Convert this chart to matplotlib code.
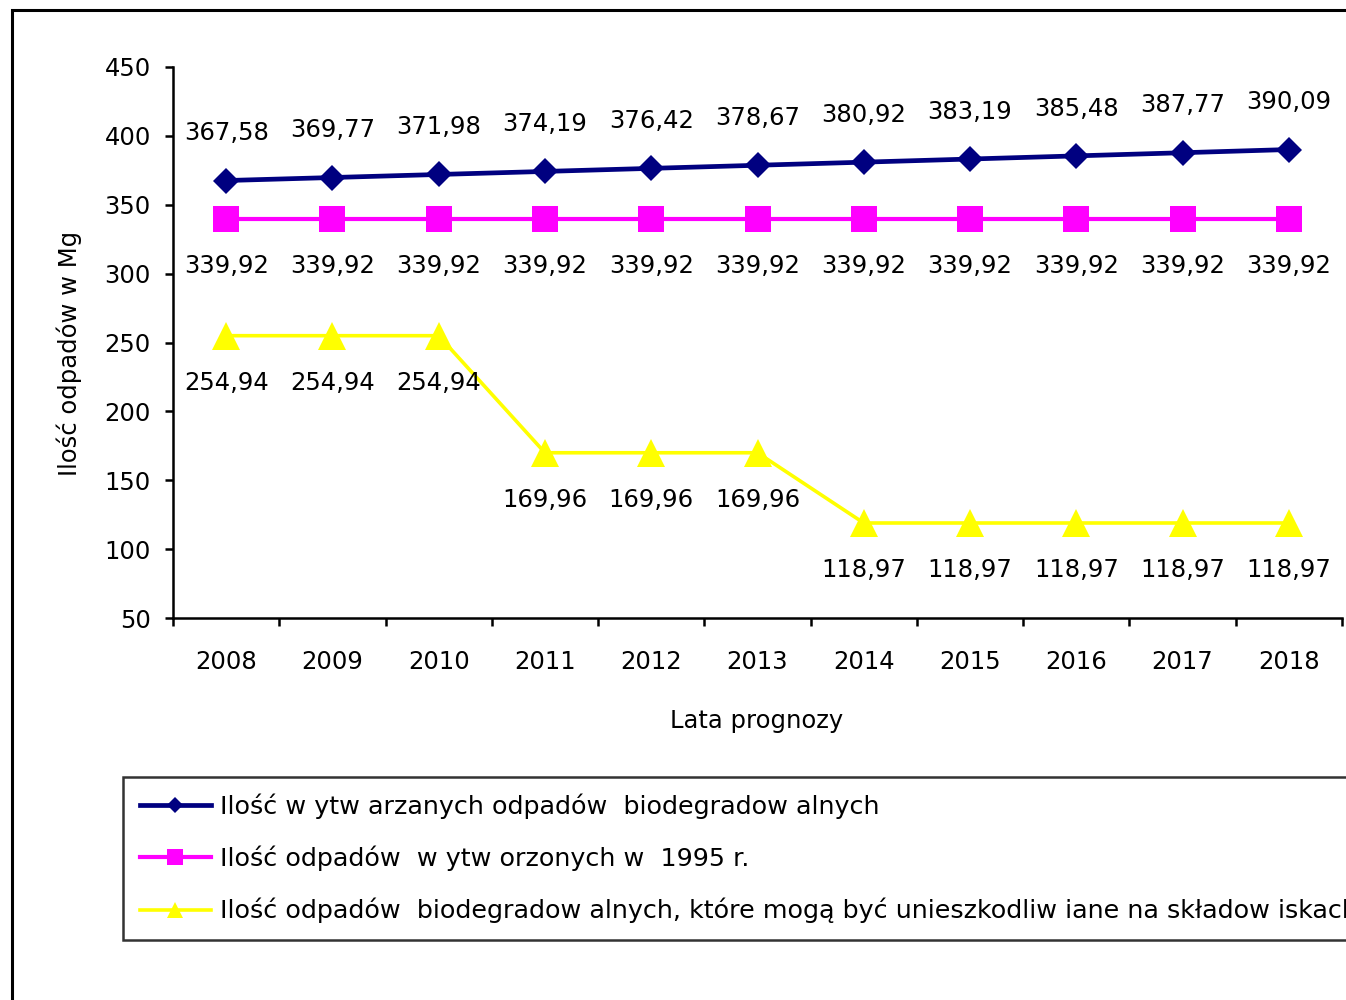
import matplotlib

matplotlib.use("Agg")
matplotlib.rc("font", **{"family": "sans-serif", "sans-serif": ["DejaVu Sans"]})

import numpy as np
import matplotlib.pyplot as plt
from matplotlib.patches import Rectangle

years = ["2008", "2009", "2010", "2011", "2012", "2013",
         "2014", "2015", "2016", "2017", "2018"]

generated = [367.58, 369.77, 371.98, 374.19, 376.42, 378.67,
             380.92, 383.19, 385.48, 387.77, 390.09]
base_1995 = [339.92] * 11
landfill = [254.94, 254.94, 254.94, 169.96, 169.96, 169.96,
            118.97, 118.97, 118.97, 118.97, 118.97]

labels = [
    "Ilość w ytw arzanych odpadów  biodegradow alnych",
    "Ilość odpadów  w ytw orzonych w  1995 r.",
    "Ilość odpadów  biodegradow alnych, które mogą być unieszkodliw iane na składow iskach",
]

yticks = [50, 100, 150, 200, 250, 300, 350, 400, 450]


def fmt(v):
    return "{:.2f}".format(v).replace(".", ",")


if __name__ == "__main__":
    W, H = 1346, 1000
    fig = plt.figure(figsize=(W / 100, H / 100), dpi=100)
    ax = fig.add_axes([173 / W, 1 - 618 / H, (1342 - 173) / W, (618 - 67) / H])

    x = np.arange(len(years))

    series = [
        (generated, "#000080", "D", 13.5, 3.4, 1),
        (base_1995, "#FF00FF", "s", 18.5, 3.0, -1),
        (landfill, "#FFFF00", "^", 20, 2.6, -1),
    ]

    handles = []
    for (vals, color, marker, ms, lw, side), label in zip(series, labels):
        (line,) = ax.plot(x, vals, color=color, marker=marker, markersize=ms,
                          linewidth=lw, markeredgewidth=0, label=label,
                          clip_on=False, zorder=3)
        handles.append(line)
        for xi, v in zip(x, vals):
            ax.annotate(fmt(v), (xi, v), xytext=(0, side * 34), textcoords="offset points",
                        ha="center", va="center", fontsize=17.5, color="black", zorder=4)

    ax.set_xlim(-0.5, len(years) - 0.5)
    ax.set_ylim(50, 450)
    ax.set_yticks(yticks)
    ax.set_yticklabels([str(t) for t in yticks])

    ax.set_xticks(np.arange(-0.5, len(years)), [""] * (len(years) + 1))
    ax.set_xticks(x, years, minor=True)
    ax.tick_params(axis="x", which="major", length=6, width=1.8, direction="out")
    ax.tick_params(axis="x", which="minor", length=0, pad=23, labelsize=17.5)
    ax.tick_params(axis="y", length=6, width=1.8, direction="out", pad=10, labelsize=17.5)

    for side_name in ["top", "right"]:
        ax.spines[side_name].set_visible(False)
    for side_name in ["left", "bottom"]:
        ax.spines[side_name].set_linewidth(1.8)

    ax.set_ylabel("Ilość odpadów w Mg", fontsize=17.5)
    ax.yaxis.set_label_coords(-0.078, 0.48)
    ax.set_xlabel("Lata prognozy", fontsize=17.5)
    ax.xaxis.set_label_coords(0.499, -0.165)

    leg = fig.legend(handles=handles, loc="upper left",
                     bbox_to_anchor=(123 / W, 1 - 937 / H, 1.2, (937 - 777) / H),
                     mode="expand", fontsize=18.3, frameon=True, fancybox=False,
                     edgecolor="black", handlelength=2.8, handletextpad=0.35,
                     labelspacing=1.05, borderpad=0.65, borderaxespad=0,
                     markerscale=0.6)
    leg.get_frame().set_linewidth(1.8)

    fig.patches.append(Rectangle((12 / W, -0.1), 1.2, 1.1 - 10 / H, transform=fig.transFigure,
                                 fill=False, edgecolor="black", linewidth=2.2))

    fig.savefig("out.png", dpi=100)
